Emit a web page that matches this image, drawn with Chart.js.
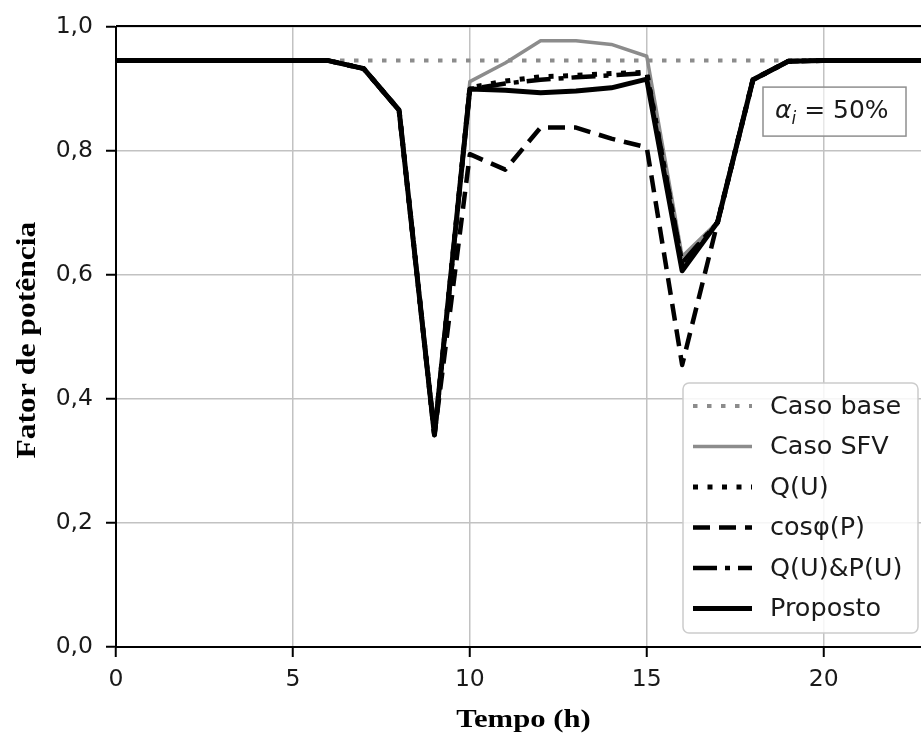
<!DOCTYPE html>
<html>
<head>
<meta charset="utf-8">
<script src="https://cdn.jsdelivr.net/npm/chart.js@4.4.1/dist/chart.umd.min.js"></script>
<style>
  body { margin: 0; background: #fff; }
  #wrap { width: 921px; height: 733px; overflow: hidden; }
</style>
</head>
<body>
<div id="wrap"><canvas id="fpChart" width="921" height="733"></canvas></div>
<script>
// horas do dia e fator de potência de cada estratégia
const horas = [0, 1, 2, 3, 4, 5, 6, 7, 8, 9, 10, 11, 12, 13, 14, 15, 16, 17, 18, 19, 20, 21, 22, 23];
const casoBase = [0.946, 0.946, 0.946, 0.946, 0.946, 0.946, 0.946, 0.946, 0.946, 0.946, 0.946, 0.946, 0.946, 0.946, 0.946, 0.946, 0.946, 0.946, 0.946, 0.946, 0.946, 0.946, 0.946, 0.946];
const casoSFV = [0.946, 0.946, 0.946, 0.946, 0.946, 0.946, 0.946, 0.933, 0.866, 0.342, 0.912, 0.942, 0.978, 0.978, 0.972, 0.953, 0.630, 0.685, 0.915, 0.945, 0.946, 0.946, 0.946, 0.946];
const qU = [0.946, 0.946, 0.946, 0.946, 0.946, 0.946, 0.946, 0.933, 0.866, 0.342, 0.902, 0.913, 0.920, 0.922, 0.925, 0.927, 0.615, 0.685, 0.915, 0.945, 0.946, 0.946, 0.946, 0.946];
const cosP = [0.946, 0.946, 0.946, 0.946, 0.946, 0.946, 0.946, 0.933, 0.866, 0.342, 0.795, 0.770, 0.838, 0.838, 0.820, 0.806, 0.455, 0.685, 0.915, 0.945, 0.946, 0.946, 0.946, 0.946];
const qUpU = [0.946, 0.946, 0.946, 0.946, 0.946, 0.946, 0.946, 0.933, 0.866, 0.342, 0.900, 0.909, 0.915, 0.919, 0.922, 0.926, 0.620, 0.685, 0.915, 0.945, 0.946, 0.946, 0.946, 0.946];
const proposto = [0.946, 0.946, 0.946, 0.946, 0.946, 0.946, 0.946, 0.933, 0.866, 0.342, 0.900, 0.898, 0.894, 0.897, 0.902, 0.916, 0.607, 0.685, 0.915, 0.945, 0.946, 0.946, 0.946, 0.946];
const yTicks = [0, 0.2, 0.4, 0.6, 0.8, 1.0];
const xTicks = [0, 5, 10, 15, 20];

const pts = arr => horas.map((h, i) => ({ x: h, y: arr[i] }));
const tickFont = { family: 'DejaVu Sans', size: 23.5 };

// legenda dentro da área do gráfico, canto inferior direito
const legendaInterna = {
  id: 'legendaInterna',
  afterDatasetsDraw(chart) {
    const { ctx, chartArea } = chart;
    const w = 235, h = 250;
    const x0 = chartArea.right - 3 - w, y0 = chartArea.bottom - 14 - h;
    ctx.save();
    ctx.beginPath();
    ctx.roundRect(x0, y0, w, h, 6);
    ctx.fillStyle = 'rgba(255,255,255,0.85)';
    ctx.fill();
    ctx.strokeStyle = '#cccccc';
    ctx.lineWidth = 1.5;
    ctx.stroke();
    ctx.font = '25.5px "DejaVu Sans"';
    ctx.textBaseline = 'middle';
    chart.data.datasets.forEach((ds, i) => {
      const yy = y0 + 23 + i * 40.5;
      ctx.beginPath();
      ctx.setLineDash(ds.borderDash || []);
      ctx.lineWidth = ds.borderWidth;
      ctx.strokeStyle = ds.borderColor;
      ctx.moveTo(x0 + 10, yy);
      ctx.lineTo(x0 + 69, yy);
      ctx.stroke();
      ctx.setLineDash([]);
      ctx.fillStyle = '#1a1a1a';
      ctx.fillText(ds.label, x0 + 87, yy + 1);
    });
    ctx.restore();
  }
};

// caixa com o nível de penetração, eixo superior e títulos dos eixos
const anotacoes = {
  id: 'anotacoes',
  afterDraw(chart) {
    const { ctx, chartArea } = chart;
    ctx.save();
    // eixo superior
    ctx.beginPath();
    ctx.strokeStyle = '#000';
    ctx.lineWidth = 2;
    ctx.moveTo(chartArea.left, chartArea.top - 1);
    ctx.lineTo(chartArea.right, chartArea.top - 1);
    ctx.stroke();

    // caixa alpha_i
    const bw = 143, bh = 49;
    const bx = chartArea.right - 15 - bw, by = chartArea.top + 60;
    ctx.fillStyle = 'rgba(255,255,255,0.6)';
    ctx.fillRect(bx, by, bw, bh);
    ctx.strokeStyle = '#8f8f8f';
    ctx.lineWidth = 1.5;
    ctx.strokeRect(bx, by, bw, bh);
    ctx.fillStyle = '#1a1a1a';
    ctx.textBaseline = 'alphabetic';
    let tx = bx + 12;
    const base = by + 31;
    ctx.font = 'italic 25px "DejaVu Sans"';
    ctx.fillText('α', tx, base);
    tx += ctx.measureText('α').width;
    ctx.font = 'italic 17px "DejaVu Sans"';
    ctx.fillText('i', tx, base + 6);
    tx += ctx.measureText('i').width;
    ctx.font = '25px "DejaVu Sans"';
    ctx.fillText(' = 50%', tx, base);

    // títulos dos eixos
    ctx.textAlign = 'center';
    ctx.fillStyle = '#000';
    ctx.font = 'bold 26px "Liberation Serif"';
    ctx.save();
    ctx.translate((chartArea.left + chartArea.right) / 2 + 5, chart.height - 6);
    ctx.scale(1.18, 1);
    ctx.fillText('Tempo (h)', 0, 0);
    ctx.restore();
    ctx.font = 'bold 27px "Liberation Serif"';
    ctx.save();
    ctx.translate(35, (chartArea.top + chartArea.bottom) / 2 + 3);
    ctx.rotate(-Math.PI / 2);
    ctx.scale(1.17, 1);
    ctx.fillText('Fator de potência', 0, 0);
    ctx.restore();
    ctx.restore();
  }
};

new Chart(document.getElementById('fpChart'), {
  type: 'line',
  data: {
    datasets: [
      { label: 'Caso base', data: pts(casoBase), borderColor: '#8c8c8c', borderWidth: 4, borderDash: [4.5, 9.5], order: 6 },
      { label: 'Caso SFV', data: pts(casoSFV), borderColor: '#8c8c8c', borderWidth: 3.5, order: 5 },
      { label: 'Q(U)', data: pts(qU), borderColor: '#000', borderWidth: 5, borderDash: [5, 9.5], order: 4 },
      { label: 'cosφ(P)', data: pts(cosP), borderColor: '#000', borderWidth: 4.5, borderDash: [17, 9], order: 3 },
      { label: 'Q(U)&P(U)', data: pts(qUpU), borderColor: '#000', borderWidth: 4.5, borderDash: [24, 8, 5, 8], order: 2 },
      { label: 'Proposto', data: pts(proposto), borderColor: '#000', borderWidth: 5, order: 1 }
    ].map(ds => Object.assign(ds, { pointRadius: 0, fill: false, tension: 0, borderJoinStyle: 'round', borderCapStyle: 'butt' }))
  },
  options: {
    responsive: false,
    animation: false,
    layout: { padding: { top: 27, left: 0, right: 0, bottom: 0 } },
    plugins: { legend: { display: false }, tooltip: { enabled: false } },
    scales: {
      x: {
        type: 'linear',
        min: 0,
        max: 22.75,
        afterBuildTicks: s => { s.ticks = xTicks.map(v => ({ value: v })); },
        afterFit: s => { s.height = 86; },
        ticks: { font: tickFont, color: '#1a1a1a', padding: 9, maxRotation: 0 },
        grid: { color: '#c2c2c2', lineWidth: 1.5, tickLength: 10, tickColor: '#000', tickWidth: 2 },
        border: { color: '#000', width: 2 }
      },
      y: {
        min: 0,
        max: 1,
        afterBuildTicks: s => { s.ticks = yTicks.map(v => ({ value: v })); },
        afterFit: s => { s.width = 116; },
        ticks: { font: tickFont, color: '#1a1a1a', padding: 13, callback: v => v.toFixed(1).replace('.', ',') },
        grid: { color: '#c2c2c2', lineWidth: 1.5, tickLength: 10, tickColor: '#000', tickWidth: 2 },
        border: { color: '#000', width: 2 }
      }
    }
  },
  plugins: [legendaInterna, anotacoes]
});
</script>
</body>
</html>
